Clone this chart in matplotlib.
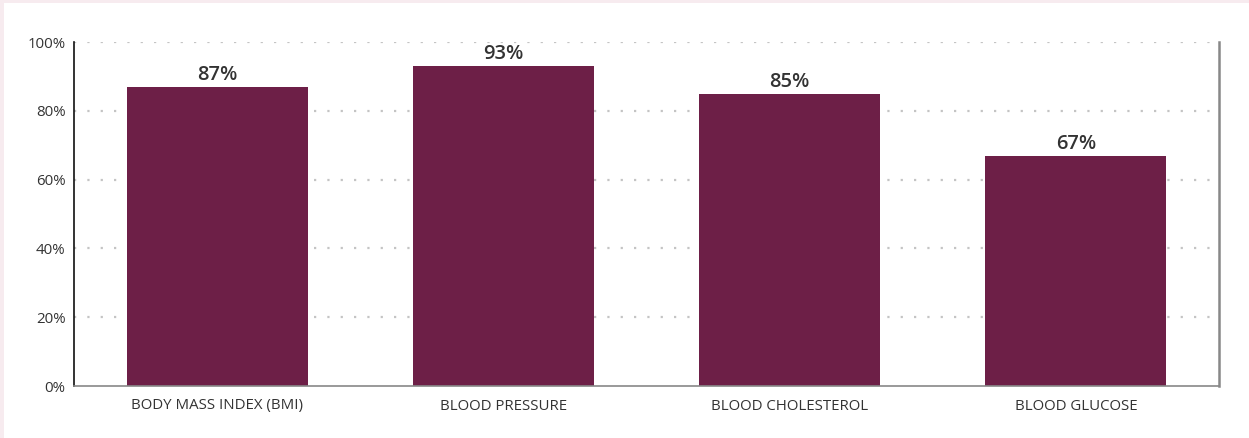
import numpy as np
import matplotlib.pyplot as plt
from matplotlib.patches import Rectangle

categories = ["BODY MASS INDEX (BMI)", "BLOOD PRESSURE", "BLOOD CHOLESTEROL", "BLOOD GLUCOSE"]
values = [87, 93, 85, 67]
y_ticks = [0, 20, 40, 60, 80, 100]
y_tick_labels = ["0%", "20%", "40%", "60%", "80%", "100%"]

plt.rcParams['font.family'] = ['Open Sans', 'DejaVu Sans']

bar_color = "#6d1f47"
text_color = "#333333"

fig = plt.figure(figsize=(12.49, 4.38), dpi=100)
fig.patch.set_facecolor("#f7ebef")
# white panel inset from the pink frame
fig.patches.append(Rectangle((4 / 1249, 0), 1, 1 - 3 / 438, transform=fig.transFigure,
                             facecolor="white", edgecolor="none", zorder=-10))

ax = fig.add_axes([74 / 1249, 1 - 386 / 438, (1219 - 74) / 1249, (386 - 42) / 438])
ax.set_facecolor("white")
ax.set_zorder(1)

x = np.arange(len(categories))
ax.bar(x, values, width=0.633, color=bar_color, zorder=2)

for xi, v in zip(x, values):
    ax.annotate(f"{v}%", (xi, v), xytext=(0, 5), textcoords="offset points",
                ha="center", va="baseline", fontsize=14.5,
                fontweight="semibold", color=text_color)

ax.set_xlim(-0.5, len(categories) - 0.5)
ax.set_ylim(0, 100)
ax.set_yticks(y_ticks)
ax.set_yticklabels(y_tick_labels)
ax.set_xticks(x)
ax.set_xticklabels(categories)
ax.tick_params(axis="both", length=0, labelsize=10.8, labelcolor=text_color)
ax.tick_params(axis="y", pad=6)
ax.tick_params(axis="x", pad=9)

# dotted gridlines
for yv in y_ticks[1:]:
    ax.axhline(yv, color="#c4c4c4", linewidth=1.6, linestyle=(0, (1, 5)), zorder=1)

ax.spines['top'].set_visible(False)
ax.spines['left'].set_color("#111111")
ax.spines['left'].set_linewidth(1.2)
ax.spines['bottom'].set_color("#888888")
ax.spines['bottom'].set_linewidth(1.2)
ax.spines['right'].set_color("#888888")
ax.spines['right'].set_linewidth(1.8)

fig.savefig("out.png", dpi=100, facecolor=fig.get_facecolor())
